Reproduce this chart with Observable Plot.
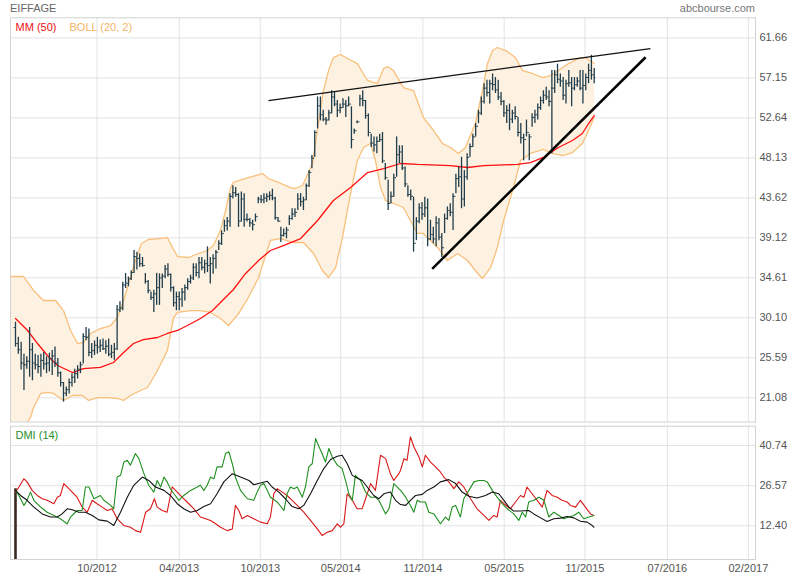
<!DOCTYPE html>
<html><head><meta charset="utf-8">
<script src="https://cdn.jsdelivr.net/npm/d3@7"></script>
<script src="https://cdn.jsdelivr.net/npm/@observablehq/plot@0.6"></script>
<style>
body{margin:0;background:#fff;font-family:"Liberation Sans",Arial,sans-serif;}
#wrap{position:relative;width:800px;height:580px;overflow:hidden;}
#hdr{position:relative;height:16px;}
#t1{position:absolute;left:10px;top:2px;font-size:11px;color:#666;}
#t2{position:absolute;right:45px;top:2px;font-size:11px;color:#777;}
svg{overflow:visible;}
</style></head><body>
<div id="wrap"><div id="hdr"><span id="t1">EIFFAGE</span><span id="t2">abcbourse.com</span></div><div id="p1"></div><div id="p2"></div></div>
<script>
// ---- data (bar index i = weekly bar number) ----
const hi = [29.6,27.9,27.35,26.0,25.7,29.0,27.2,26.0,25.85,26.0,26.2,25.7,26.1,26.4,26.8,25.5,24.0,22.8,22.3,23.2,23.8,24.3,24.7,25.1,28.3,29.0,28.85,27.2,27.5,27.9,27.6,27.7,27.5,27.7,27.0,27.2,31.5,31.9,34.1,35.1,34.7,35.4,37.7,37.5,37.3,36.9,35.1,34.3,33.0,33.2,35.1,
35.05,35.05,36.0,36.2,35.05,33.6,33.0,33.0,33.4,33.8,34.5,34.9,36.2,36.2,36.9,36.9,36.6,38.1,36.9,37.2,37.7,38.8,39.9,41.1,41.4,44.1,45.0,44.8,44.1,44.3,44.1,41.8,41.3,41.1,41.8,43.7,43.9,44.1,44.1,44.3,44.6,43.7,41.4,40.3,40.1,40.3,41.6,42.4,
42.4,44.1,44.1,43.7,45.2,46.7,48.4,51.2,55.0,55.0,53.5,52.7,53.5,55.7,55.5,54.6,54.2,54.8,54.6,55.0,53.9,51.4,52.3,55.2,55.7,54.6,53.1,50.8,50.5,50.5,50.8,51.0,47.5,45.6,44.3,46.3,50.5,49.5,49.5,47.1,45.0,44.5,43.7,41.4,42.95,43.1,43.7,43.5,41.1,
40.3,41.5,41.3,39.6,41.8,42.6,42.95,44.1,46.3,47.1,48.2,46.7,48.6,49.7,50.8,52.0,53.5,55.0,56.5,56.9,56.9,57.6,57.2,56.9,55.5,
54.6,54.0,54.2,53.5,53.9,52.7,52.0,50.8,52.4,
50.8,53.1,53.5,54.2,55.0,55.7,56.1,55.7,58.0,58.0,58.7,57.6,
57.2,56.9,58.0,57.2,57.2,
57.2,58.0,58.0,57.6,58.7,59.7,58.2];
const lo = [26.8,26.0,24.2,21.9,24.3,23.4,23.0,24.2,23.8,23.4,24.2,23.8,24.0,23.6,24.5,23.4,22.3,20.6,21.2,21.5,22.3,22.7,23.2,23.8,24.9,27.5,25.7,25.5,25.85,26.0,26.2,26.4,26.0,25.7,25.5,25.3,26.4,30.7,30.9,33.4,33.6,34.3,35.1,35.5,35.8,35.8,33.9,32.8,32.05,30.7,31.5,
31.5,33.4,34.5,34.7,33.0,31.3,30.9,30.9,31.3,32.0,33.2,33.9,34.3,34.7,34.5,35.4,35.05,35.2,33.9,35.0,35.6,37.7,38.25,39.75,39.9,40.3,43.5,43.7,40.3,40.9,40.3,40.9,40.3,39.9,40.9,42.95,43.0,42.95,43.1,43.3,43.3,41.1,40.9,38.6,39.2,39.0,40.5,41.1,
41.4,42.2,42.6,42.2,43.3,44.8,46.9,48.2,51.4,52.3,52.2,51.8,52.3,53.1,53.9,52.7,53.1,53.7,52.7,53.9,49.15,50.8,51.97,53.9,53.9,52.5,50.5,49.3,48.8,48.6,49.9,47.5,45.6,42.2,42.95,43.7,45.95,47.5,46.7,44.8,43.7,43.3,37.5,38.8,40.7,41.1,41.4,38.1,38.8,
38.45,38.1,38.8,36.9,39.6,41.1,41.5,39.95,44.1,44.8,42.4,42.6,45.6,48.2,49.3,50.5,52.0,52.9,54.2,55.0,54.2,55.7,55.4,54.6,54.0,
52.7,52.0,51.2,52.0,52.4,50.5,49.7,47.8,50.5,
47.8,51.6,52.0,52.4,53.5,54.2,54.6,53.9,48.6,55.4,56.5,56.1,
54.6,54.2,56.1,53.9,55.7,
56.1,55.7,54.2,55.7,56.5,56.9,56.5];
const close = [27.2,26.5,25.0,24.8,25.2,26.5,25.0,24.8,24.6,25.3,24.9,25.0,25.5,25.8,25.0,23.9,22.8,21.6,22.0,22.8,23.4,23.8,24.3,24.8,28.0,27.9,26.2,26.4,27.0,26.8,27.0,26.6,26.9,26.0,26.2,26.6,31.0,31.2,33.8,34.0,34.5,35.2,37.0,36.8,36.2,36.0,34.2,33.2,32.4,32.8,33.5,
34.6,34.8,35.6,35.0,33.5,31.8,32.5,32.2,33.0,33.5,34.2,34.6,35.8,35.2,36.3,35.8,36.2,36.0,36.2,36.8,37.5,38.5,39.6,40.5,41.0,43.8,44.2,44.0,41.0,43.5,41.2,41.2,40.8,40.6,41.5,43.5,43.4,43.6,43.8,43.9,43.6,41.4,41.0,39.4,39.6,40.0,41.3,41.8,
42.0,43.5,43.2,43.4,45.0,46.5,48.1,51.0,54.0,53.0,52.5,52.4,53.2,55.0,54.2,53.5,53.8,54.2,54.0,54.2,50.2,51.2,52.2,54.8,54.6,52.9,51.0,49.8,49.6,50.0,50.2,47.8,45.9,43.0,43.8,45.9,48.5,48.8,47.0,45.2,44.0,43.8,38.5,41.0,42.5,41.8,42.5,39.0,39.5,
39.0,40.8,39.2,38.0,41.3,42.2,42.0,43.8,45.8,46.0,43.5,46.0,48.2,49.4,50.5,51.7,53.2,54.5,56.0,55.5,56.5,56.4,55.8,55.0,54.5,
53.2,53.5,52.5,53.2,52.8,51.0,50.4,50.2,51.0,
50.5,52.7,53.0,53.8,54.6,55.2,55.0,54.5,56.0,57.5,57.0,56.8,
55.2,56.5,56.6,56.0,56.4,
56.8,56.0,56.3,57.2,58.0,57.5,57.2];
const firstOpen = 29.0;

const bollUpper = [[-1.8,34.76],[2.8,34.76],[6.4,33.18],[9.9,32.05],[14.2,32.05],[17.0,30.92],[19.5,28.67],[22.0,27.20],[24.1,27.32],[26.6,28.33],[30.1,28.89],[33.7,29.23],[36.1,30.13],[38.3,32.05],[40.7,34.64],[42.5,36.56],[44.6,38.48],[47.1,38.93],[50.7,39.04],[53.8,39.15],[55.6,38.03],[57.4,37.01],[61.3,36.90],[64.8,37.35],[68.0,37.69],[70.1,38.25],[72.6,39.94],[74.4,42.20],[76.2,44.79],[77.2,45.36],[81.5,45.81],[85.0,46.14],[87.5,46.37],[89.6,45.81],[93.2,45.36],[97.4,44.79],[99.2,44.68],[101.7,45.02],[105.2,47.50],[107.3,52.01],[109.1,55.73],[110.9,57.98],[112.6,59.45],[115.1,59.79],[117.6,59.34],[121.1,58.77],[124.7,56.86],[128.2,56.52],[130.4,58.21],[131.8,58.43],[133.9,57.98],[137.4,56.07],[141.0,55.73],[144.5,52.68],[148.1,51.22],[151.3,49.75],[154.1,49.30],[156.9,48.63],[159.4,49.30],[162.9,52.01],[165.4,55.73],[167.2,58.77],[169.0,60.24],[170.7,60.58],[173.6,60.24],[177.1,59.45],[179.6,57.98],[183.1,57.65],[186.7,57.19],[189.5,57.42],[192.3,57.98],[195.9,58.77],[199.4,59.34],[201.9,59.45],[204.4,58.89],[205,58.77]];
const bollLower = [[-1.8,15.14],[2.5,17.39],[5.3,18.86],[6.4,19.99],[8.9,21.57],[11.3,21.68],[13.5,21.57],[17.0,20.78],[20.2,21.34],[23.7,21.34],[25.9,20.78],[29.0,21.11],[32.6,21.11],[36.1,21.00],[38.3,20.78],[40.7,21.34],[44.3,21.90],[46.8,22.24],[50.3,24.16],[53.8,26.41],[56.0,30.13],[57.4,30.70],[62.0,30.92],[65.5,30.92],[69.1,30.70],[72.6,30.02],[75.5,29.23],[79.0,30.58],[82.5,32.39],[86.1,34.64],[90.3,38.82],[93.9,39.04],[98.5,38.59],[102.0,38.59],[105.6,37.35],[108.7,35.43],[110.9,34.64],[113.4,35.77],[115.8,39.15],[118.7,44.12],[121.1,47.84],[123.3,49.30],[125.8,49.75],[127.5,47.84],[129.3,44.79],[131.1,43.33],[133.9,42.99],[137.4,42.54],[139.9,41.07],[142.4,39.61],[144.5,39.61],[149.5,38.03],[153.0,36.56],[156.6,37.35],[160.1,36.56],[163.7,35.10],[165.4,34.53],[168.3,35.77],[170.7,38.03],[172.9,41.07],[176.4,44.79],[178.9,47.84],[182.4,48.63],[187.0,49.08],[190.2,48.63],[193.8,48.40],[197.3,48.74],[200.8,49.75],[203.0,51.22],[205,52.68]];
const mm50 = [[0,30.02],[4.3,28.67],[7.8,27.20],[11.3,25.85],[14.9,24.72],[20.2,23.93],[24.1,24.38],[30.1,24.50],[34.7,25.06],[38.3,26.19],[41.8,27.20],[45.3,27.65],[50.3,27.88],[53.8,28.33],[57.4,28.67],[60.9,29.23],[65.5,30.02],[69.8,30.92],[72.6,31.83],[77.2,33.29],[81.5,35.10],[86.1,36.56],[90.3,37.69],[94.9,38.25],[101.0,39.04],[107.0,41.07],[112.6,43.33],[118.7,44.79],[124.7,46.48],[130.4,46.93],[136.4,47.50],[142.4,47.39],[154.1,47.27],[160.1,47.05],[165.8,47.27],[177.8,47.39],[182.4,47.61],[187.0,48.18],[192.3,49.30],[197.3,50.09],[200.8,50.88],[203.0,52.01],[205,52.91]];
const resistance = {i1:89.6, v1:54.60, i2:224.9, v2:60.46};
const support = {i1:147.6, v1:35.62, i2:223.2, v2:59.48};

const diPlus = [[0,24.9],[1.2,23.1],[3,19.6],[4.1,21.4],[5.3,24.3],[6.5,21.4],[8.9,19.0],[11.2,17.2],[13.6,16.05],[15.9,14.9],[18.3,13.1],[19.5,15.5],[21.8,17.8],[23.6,17.8],[24.8,26.1],[26,26.1],[27.8,21.95],[30.1,23.1],[31.3,21.4],[33.7,19.6],[34.8,18.4],[36,29.6],[37.2,30.2],[38.4,34.9],[39.6,35.5],[40.7,33.8],[42.5,37.9],[43.7,36.1],[45.5,30.8],[47.2,26.7],[49,24.3],[50.2,28.4],[51.4,26.1],[52.6,29.6],[53.7,27.9],[54.9,25.5],[56.1,23.7],[57.9,21.4],[59.6,23.1],[62,24.9],[64.4,26.1],[65.5,26.7],[66.7,24.9],[67.9,26.7],[69.1,29.6],[70.3,29.0],[71.4,33.2],[73.2,33.2],[74.4,37.9],[75.6,38.5],[76.8,34.3],[77.9,29.6],[79.7,24.9],[82.1,21.95],[84.4,21.4],[85.6,24.3],[86.8,26.7],[88,27.3],[89.2,24.9],[90.3,22.5],[92.7,20.8],[95.1,17.8],[96.2,23.7],[97.4,26.1],[98.6,25.5],[99.8,26.1],[101.6,22.5],[102.7,26.1],[103.9,33.2],[105.1,34.3],[106.3,43.2],[107.5,40.3],[108.6,37.9],[109.8,34.9],[111,39.7],[112.2,36.7],[114,33.8],[115.7,32.6],[116.9,28.4],[118.1,23.7],[119.3,21.4],[120.4,30.2],[122.2,28.4],[124,24.3],[125.8,22.5],[127.5,22.5],[128.7,21.4],[131.1,16.6],[132.3,18.4],[134,27.3],[136.4,24.9],[138.2,22.5],[139.9,19.6],[141.1,17.2],[142.3,21.4],[143.5,20.8],[145.2,20.8],[146.4,17.2],[148.2,16.6],[150.5,13.1],[152.3,15.5],[153.5,14.3],[154.7,19.0],[155.9,19.6],[157.6,15.5],[158.8,21.95],[160.6,24.9],[162.4,27.9],[164.1,28.4],[165.9,28.4],[167.1,27.9],[168.9,24.9],[170.6,22.5],[172.4,20.2],[174.2,18.4],[176.5,16.6],[178.3,14.3],[179.5,17.2],[180.7,15.5],[181.8,20.8],[183.6,21.4],[185.4,22.5],[187.2,21.4],[188.9,15.5],[190.7,17.2],[192.5,16.05],[194.2,14.9],[196,15.5],[197.8,16.05],[199.5,17.2],[201.3,14.9],[203.1,15.5],[204.9,16.05]];
const diMinus = [[0,24.3],[1.2,26.1],[3,29.0],[4.1,27.9],[5.9,24.9],[7.7,23.1],[9.5,21.95],[11.2,21.4],[13.6,20.2],[14.8,22.5],[15.9,23.1],[17.1,27.3],[18.3,26.1],[20.1,24.3],[21.8,22.5],[23.6,19.0],[25.4,17.2],[27.2,21.4],[28.9,20.2],[30.7,19.0],[32.5,17.8],[34.2,18.4],[36,14.9],[38.4,12.5],[40.7,11.9],[42.5,10.7],[44.3,10.1],[46.1,17.2],[47.8,18.4],[49.2,21.95],[50.2,19.0],[52,17.8],[53.7,17.2],[55.5,26.1],[57.3,24.3],[59,22.5],[60.8,20.8],[63.2,18.4],[65.5,15.5],[67.3,14.9],[69.1,14.3],[70.9,13.1],[72.6,11.9],[75,10.7],[76.8,11.3],[77.9,19.6],[79.1,17.8],[80.3,14.9],[82.1,16.05],[84.4,14.9],[86.8,13.7],[89.2,13.1],[90.3,15.5],[91.5,23.7],[92.7,25.5],[94.5,24.3],[96.2,23.1],[98,21.4],[99.8,19.6],[102.1,17.2],[104.5,14.3],[106.9,11.3],[108.6,9.0],[110.4,10.1],[112.2,10.7],[114,13.1],[115.1,11.9],[116.3,13.1],[117.5,23.7],[119.3,21.4],[121,18.4],[122.8,18.4],[124,21.95],[125.8,27.3],[127.5,24.9],[129.3,37.3],[131.1,36.1],[132.8,30.8],[134,28.4],[135.8,30.8],[136.4,32.0],[137.6,36.1],[138.7,35.5],[139.9,43.8],[141.1,40.3],[142.9,36.7],[144.1,33.2],[145.2,37.3],[147,34.9],[148.8,33.2],[150.5,31.4],[151.7,29.6],[153.5,27.9],[155.3,25.5],[157.0,27.9],[158.8,26.1],[161.2,21.95],[163.5,18.4],[165.9,16.05],[167.7,14.3],[169.4,16.05],[170.6,15.5],[171.8,21.4],[173,20.2],[175.3,18.4],[177.1,20.8],[178.9,23.1],[180.1,22.5],[181.2,26.1],[183,23.7],[184.8,21.4],[186.6,19.0],[188.3,24.9],[190.1,23.1],[191.9,22.5],[193.6,21.4],[195.4,20.8],[196.6,19.6],[198.4,19.0],[200.1,21.4],[201.9,19.0],[203.7,16.6],[204.9,16.05]];
const adx = [[0,24.9],[1.8,23.1],[4.1,21.4],[6.5,19.0],[9.5,16.6],[12.4,15.5],[14.8,15.5],[16.5,16.6],[18.3,18.4],[20.1,18.05],[22.4,17.2],[24.8,17.2],[27.2,16.05],[29.5,14.5],[32.5,14.04],[34.8,12.5],[37.2,17.2],[39.6,22.5],[41.9,26.7],[44.9,29.6],[47.2,28.4],[49.6,26.1],[52.6,24.9],[54.9,23.1],[57.3,20.2],[59.6,18.4],[62,17.2],[64.4,17.8],[66.7,19.2],[69.1,20.2],[71.4,23.7],[73.8,27.9],[76.8,30.8],[79.7,29.6],[82.7,28.4],[84.4,26.9],[86.8,27.5],[89.2,28.1],[90.9,26.1],[93.3,24.3],[95.6,21.95],[98,19.2],[100.4,18.4],[102.1,19.6],[104.5,23.7],[106.9,28.4],[109.2,32.6],[111.6,35.8],[114,36.95],[115.7,37.3],[117.5,34.3],[119.3,30.2],[121,29.3],[122.8,28.4],[124.6,26.1],[126.9,23.1],[128.7,21.95],[130.5,23.7],[132.8,24.3],[134.6,21.4],[136.4,19.9],[138.2,19.6],[139.9,21.4],[141.7,23.1],[144.1,23.5],[145.8,24.9],[148.2,26.1],[150.5,27.9],[153.5,28.7],[155.9,27.3],[158.2,24.3],[160.6,22.8],[163.5,22.2],[166.5,23.1],[168.9,24.3],[171.2,23.7],[173,21.4],[174.8,19.0],[176.5,17.6],[178.9,17.6],[181.8,17.8],[183.6,16.6],[186,15.2],[188.3,13.9],[190.7,14.9],[193.1,15.1],[195.4,15.7],[197.8,15.2],[200.1,14.0],[202.5,13.7],[204.3,12.5],[204.9,11.9]];
const dmiStart = [{i: 0, v: 25.5}];

const priceTicks = [21.08,25.59,30.10,34.61,39.12,43.62,48.13,52.64,57.15,61.66];
const dmiTicks = [12.40,26.57,40.74];
const dateTickPos = [28.9,58.0,86.7,115.2,144.3,173.1,201.7,230.9,259.6];
const dateTickLabels = ["10/2012","04/2013","10/2013","05/2014","11/2014","05/2015","11/2015","07/2016","02/2017"];

// ---- build ----
const FONT = '"Liberation Sans", Arial, sans-serif';
const GRID = "#e3e3e3", FRAME = "#d2d2d2", BAR = "#1f3d4b";
const xDomain = [-1.77, 262.13];
const bars = hi.map((h, k) => ({i: k, hi: h, lo: lo[k], close: close[k], open: k === 0 ? firstOpen : close[k - 1]}));
const bandPoly = [...bollUpper, ...bollLower.slice().reverse()];
const X = d => d[0], Y = d => d[1];
const labelOf = new Map(dateTickPos.map((p, k) => [p, dateTickLabels[k]]));

const p1 = Plot.plot({
  width: 800, height: 406, marginTop: 1.3, marginBottom: 0.5, marginLeft: 10, marginRight: 45,
  style: {fontFamily: FONT, fontSize: "11px", color: "#555", background: "#fff", overflow: "visible"},
  x: {domain: xDomain, axis: null},
  y: {domain: [18.35, 63.93], axis: "right", ticks: priceTicks, tickSize: 0, tickPadding: 4, tickFormat: d => d.toFixed(2), label: null},
  marks: [
    Plot.ruleY(priceTicks, {stroke: GRID}),
    Plot.ruleX(dateTickPos, {stroke: GRID}),
    Plot.line(bandPoly, {x: X, y: Y, fill: "#fdf1e2", stroke: "none", clip: true}),
    Plot.line(bollUpper, {x: X, y: Y, stroke: "#f8c07a", strokeWidth: 1.3, clip: true}),
    Plot.line(bollLower, {x: X, y: Y, stroke: "#f8c07a", strokeWidth: 1.3, clip: true}),
    Plot.line(mm50, {x: X, y: Y, stroke: "#ff1010", strokeWidth: 1.3}),
    Plot.ruleX(bars, {x: "i", y1: "lo", y2: "hi", stroke: BAR, strokeWidth: 1.3}),
    Plot.ruleY(bars, {y: "open", x1: d => d.i - 0.5, x2: "i", stroke: BAR, strokeWidth: 1}),
    Plot.ruleY(bars, {y: "close", x1: "i", x2: d => d.i + 0.5, stroke: BAR, strokeWidth: 1}),
    Plot.link([resistance], {x1: "i1", y1: "v1", x2: "i2", y2: "v2", stroke: "#111", strokeWidth: 1.2}),
    Plot.link([support], {x1: "i1", y1: "v1", x2: "i2", y2: "v2", stroke: "#000", strokeWidth: 2.5}),
    Plot.frame({stroke: FRAME}),
    Plot.text(["MM (50)"], {frameAnchor: "top-left", dx: 5, dy: 10, lineAnchor: "middle", fill: "#ee1111", fontSize: 11}),
    Plot.text(["BOLL (20, 2)"], {frameAnchor: "top-left", dx: 59, dy: 10, lineAnchor: "middle", fill: "#f5b466", fontSize: 11})
  ]
});
document.getElementById("p1").appendChild(p1);

const p2 = Plot.plot({
  width: 800, height: 158, marginTop: 3.7, marginBottom: 21, marginLeft: 10, marginRight: 45,
  style: {fontFamily: FONT, fontSize: "11px", color: "#555", background: "#fff", overflow: "visible"},
  x: {domain: xDomain, ticks: dateTickPos, tickFormat: d => labelOf.get(d), tickSize: 0, tickPadding: 5, label: null},
  y: {domain: [0.51, 47.55], axis: "right", ticks: dmiTicks, tickSize: 0, tickPadding: 4, tickFormat: d => d.toFixed(2), label: null},
  marks: [
    Plot.ruleY(dmiTicks, {stroke: GRID}),
    Plot.ruleX(dateTickPos, {stroke: GRID}),
    Plot.ruleX(dmiStart, {x: "i", y1: 0, y2: "v", stroke: "#3a2a22", strokeWidth: 2.6, clip: true}),
    Plot.line(diMinus, {x: X, y: Y, stroke: "#d81818", strokeWidth: 1.1, clip: true}),
    Plot.line(diPlus, {x: X, y: Y, stroke: "#1f8f1f", strokeWidth: 1.1, clip: true}),
    Plot.line(adx, {x: X, y: Y, stroke: "#111", strokeWidth: 1.1, clip: true}),
    Plot.frame({stroke: FRAME}),
    Plot.text(["DMI (14)"], {frameAnchor: "top-left", dx: 5, dy: 9.5, lineAnchor: "middle", fill: "#1f8f1f", fontSize: 11})
  ]
});
document.getElementById("p2").appendChild(p2);
</script>
</body></html>
